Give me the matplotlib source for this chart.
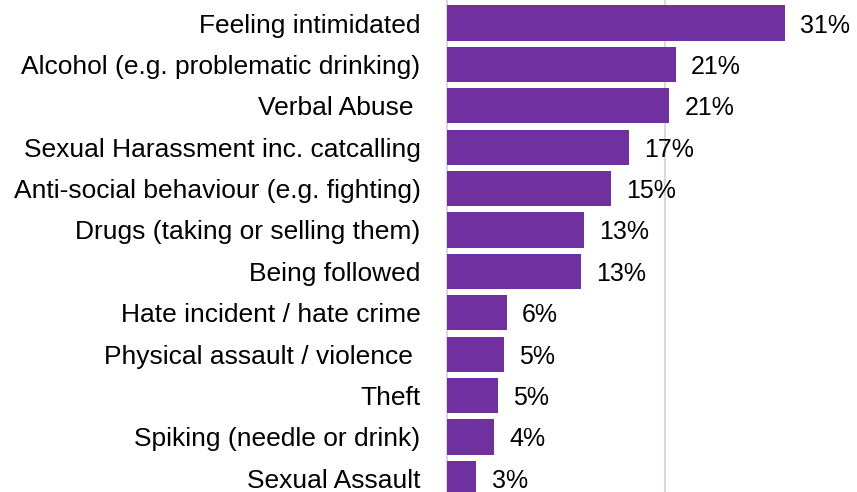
import matplotlib.pyplot as plt

categories = ["Feeling intimidated", "Alcohol (e.g. problematic drinking)", "Verbal Abuse ",
              "Sexual Harassment inc. catcalling", "Anti-social behaviour (e.g. fighting)",
              "Drugs (taking or selling them)", "Being followed", "Hate incident / hate crime",
              "Physical assault / violence ", "Theft", "Spiking (needle or drink)", "Sexual Assault"]
values = [31.0, 21.0, 20.4, 16.7, 15.0, 12.6, 12.3, 5.5, 5.2, 4.7, 4.3, 2.7]
labels = ["31%", "21%", "21%", "17%", "15%", "13%", "13%", "6%", "5%", "5%", "4%", "3%"]

plt.rcParams['font.family'] = ['Liberation Sans', 'DejaVu Sans']

fig = plt.figure(figsize=(8.57, 4.92), dpi=100)
ax = fig.add_axes([447 / 857, 0, 410 / 857, 1])

ypos = list(range(len(categories)))
ax.barh(ypos, values, height=0.85, color="#7030A0", zorder=2)

for y, v, t in zip(ypos, values, labels):
    ax.annotate(t, (v, y), xytext=(11, 0), textcoords="offset points",
                va="center_baseline", ha="left", fontsize=18, color="black")

ax.set_xlim(0, 410 / 10.9)
ax.set_ylim(11.33, -0.556)
ax.set_xticks([0, 20])
ax.xaxis.grid(True, color="#D9D9D9", linewidth=1.5, zorder=0)
ax.axvline(0, color="#D9D9D9", linewidth=1.5, zorder=1, clip_on=False)
ax.tick_params(axis="x", bottom=False, labelbottom=False)
ax.set_yticks(ypos)
ax.set_yticklabels(categories, fontsize=19)
ax.tick_params(axis="y", length=0, pad=19)
for s in ax.spines.values():
    s.set_visible(False)

fig.savefig("out.png", dpi=100)
